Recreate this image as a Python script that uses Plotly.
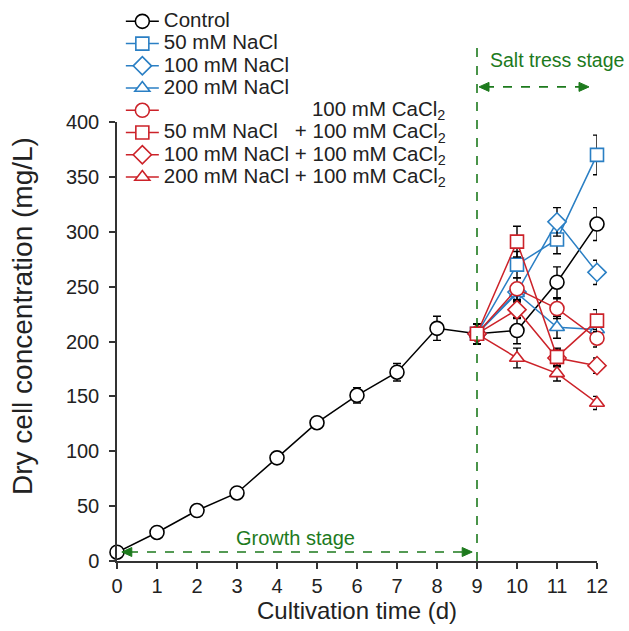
import plotly.graph_objects as go

# ---------------- data ----------------
days_all = [0, 1, 2, 3, 4, 5, 6, 7, 8, 9, 10, 11, 12]
control = [8, 26, 46, 62, 94, 126, 151, 172, 212, 207, 210, 254, 307]
control_err = [2, 2, 2, 2, 3, 4, 7, 8, 11, 9, 12, 14, 15]

days_stress = [9, 10, 11, 12]
nacl50 = [207, 270, 293, 370]
nacl50_err = [9, 12, 13, 18]
nacl100 = [207, 245, 309, 263]
nacl100_err = [9, 8, 13, 11]
nacl200 = [207, 244, 213, 211]
nacl200_err = [9, 8, 10, 8]
ca = [207, 248, 230, 203]
ca_err = [9, 10, 9, 8]
nacl50ca = [207, 291, 186, 219]
nacl50ca_err = [9, 14, 8, 10]
nacl100ca = [207, 229, 185, 178]
nacl100ca_err = [9, 8, 8, 7]
nacl200ca = [207, 185, 171, 144]
nacl200ca_err = [9, 9, 7, 6]

x_ticks = list(range(0, 13))
y_ticks = list(range(0, 401, 50))
x_range = [0, 12]
y_range = [0, 400]

NB = "\u00a0"
BLUE = "#2a7fc4"
RED = "#cc2229"
GREEN = "#1d7a1d"
FONT = "Liberation Sans, Arial, sans-serif"


def lab(t):
    return '<span style="font-size:20.5px">' + t + "</span>"


series = [
    # name, x, y, err, color, symbol, legendrank
    ("Control", days_all, control, control_err, "black", "circle", 1),
    ("50 mM NaCl", days_stress, nacl50, nacl50_err, BLUE, "square", 2),
    ("100 mM NaCl", days_stress, nacl100, nacl100_err, BLUE, "diamond", 3),
    ("200 mM NaCl", days_stress, nacl200, nacl200_err, BLUE, "triangle-up", 4),
    (NB * 26 + "100 mM CaCl<sub>2</sub>", days_stress, ca, ca_err, RED, "circle", 5),
    ("100 mM NaCl + 100 mM CaCl<sub>2</sub>", days_stress, nacl100ca, nacl100ca_err, RED, "diamond", 7),
    ("200 mM NaCl + 100 mM CaCl<sub>2</sub>", days_stress, nacl200ca, nacl200ca_err, RED, "triangle-up", 8),
    ("50 mM NaCl" + NB * 3 + "+ 100 mM CaCl<sub>2</sub>", days_stress, nacl50ca, nacl50ca_err, RED, "square", 6),
]

fig = go.Figure()
for name, xs, ys, err, col, sym, rank in series:
    size = {"circle": 14, "square": 13, "diamond": 14, "triangle-up": 13}[sym]
    fig.add_trace(go.Scatter(
        x=xs, y=ys, name=lab(name), mode="lines+markers",
        line=dict(color=col, width=1.5),
        marker=dict(symbol=sym, size=size, color="white",
                    line=dict(color=col, width=1.6)),
        error_y=dict(type="data", array=err, color="black",
                     thickness=1.4, width=4),
        legendrank=rank, cliponaxis=False,
    ))


def px(xv):
    return (xv - x_range[0]) / (x_range[1] - x_range[0])


def py(yv):
    return (yv - y_range[0]) / (y_range[1] - y_range[0])


def head(xp, yp, direction):
    # filled arrowhead (pixel-sized) anchored at paper position, tip at anchor
    d = 10 * direction
    return dict(type="path", xref="paper", yref="paper",
                xsizemode="pixel", ysizemode="pixel",
                xanchor=xp, yanchor=yp,
                path=f"M0,0 L{-d},4.5 L{-d},-4.5 Z",
                fillcolor=GREEN, line=dict(color=GREEN, width=1))


shapes = []
annotations = []
# vertical stage divider
shapes.append(dict(type="line", xref="paper", yref="paper",
                   x0=px(9), x1=px(9), y0=0, y1=1.175,
                   line=dict(color=GREEN, width=1.6, dash="dash")))
# growth stage arrow
g_y = 8.2
shapes.append(dict(type="line", xref="x", yref="y", x0=0.3, x1=8.7,
                   y0=g_y, y1=g_y, line=dict(color=GREEN, width=1.6, dash="dash")))
shapes.append(head(px(0.12), py(g_y), -1))
shapes.append(head(px(8.88), py(g_y), 1))
annotations.append(dict(x=4.45, y=21, xref="x", yref="y", text="Growth stage",
                        xanchor="center", showarrow=False,
                        font=dict(size=20, color=GREEN, family=FONT)))
# salt stress arrow
s_y = 1.08
shapes.append(dict(type="line", xref="paper", yref="paper", x0=px(9.2), x1=px(11.6),
                   y0=s_y, y1=s_y, line=dict(color=GREEN, width=1.6, dash="dash")))
shapes.append(head(px(9.05), s_y, -1))
shapes.append(head(px(11.8), s_y, 1))
annotations.append(dict(x=px(11.0), y=1.141, xref="paper", yref="paper",
                        xanchor="center", yanchor="middle",
                        text="Salt tress stage", showarrow=False,
                        font=dict(size=19.5, color=GREEN, family=FONT)))
# y-axis title
annotations.append(dict(x=-0.198, y=0.558, xref="paper", yref="paper",
                        xanchor="center", yanchor="middle", textangle=-90,
                        text="Dry cell concentration (mg/L)", showarrow=False,
                        font=dict(size=28, color="#222", family=FONT)))

fig.update_layout(
    width=629, height=631,
    margin=dict(l=117, r=32, t=122, b=70, autoexpand=False),
    paper_bgcolor="white", plot_bgcolor="white",
    font=dict(family=FONT, size=20, color="#222"),
    shapes=shapes, annotations=annotations,
    legend=dict(x=0.008, y=1.266, xanchor="left", yanchor="top",
                font=dict(size=14.8, color="#222", family=FONT),
                itemwidth=33, bgcolor="rgba(0,0,0,0)", tracegroupgap=0),
    xaxis=dict(range=x_range, tickvals=x_ticks, ticks="outside", ticklen=6,
               tickwidth=1.5, tickcolor="#333", showline=True, linecolor="#333",
               linewidth=1.5, showgrid=False, zeroline=False,
               title=dict(text="Cultivation time (d)", standoff=4,
                          font=dict(size=24)),
               tickfont=dict(size=20)),
    yaxis=dict(range=y_range, tickvals=y_ticks, ticks="outside", ticklen=6,
               tickwidth=1.5, tickcolor="#333", showline=True, linecolor="#333",
               linewidth=1.5, showgrid=False, zeroline=False,
               ticklabelstandoff=6,
               tickfont=dict(size=20)),
)

fig.write_html("out.html")
